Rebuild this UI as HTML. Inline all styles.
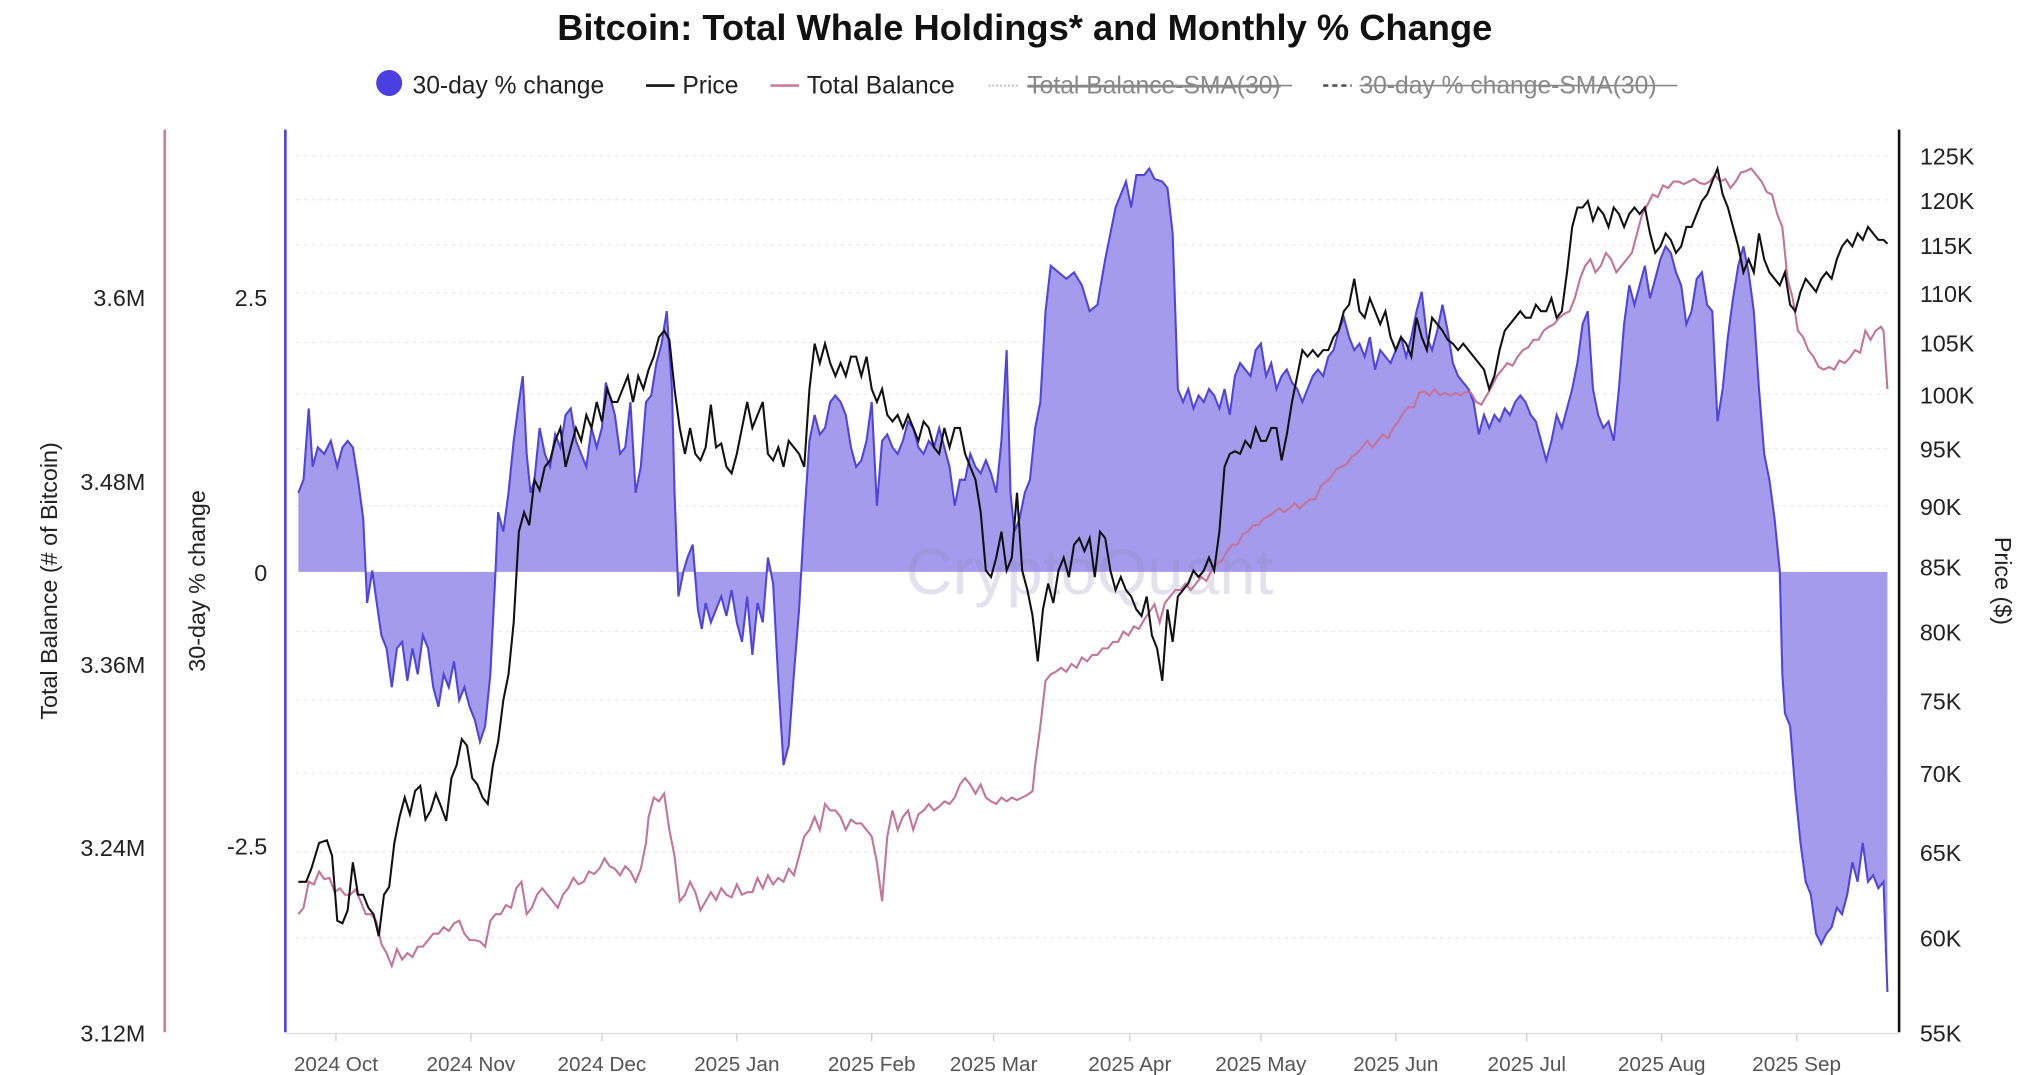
<!DOCTYPE html>
<html><head><meta charset="utf-8"><style>
html,body{margin:0;padding:0;background:#fff;}
svg{display:block;font-family:"Liberation Sans",Arial,sans-serif;}
</style></head><body>
<svg width="2034" height="1075" viewBox="0 0 1568 829" preserveAspectRatio="none" xmlns="http://www.w3.org/2000/svg">
<rect width="1568" height="829" fill="#fff"/>
<text x="790" y="31" text-anchor="middle" font-size="28" font-weight="bold" fill="#111">Bitcoin: Total Whale Holdings* and Monthly % Change</text>
<!-- legend -->
<circle cx="300" cy="64" r="10" fill="#4a3fe0"/>
<text x="318" y="72" font-size="19" fill="#222">30-day % change</text>
<line x1="498" y1="66" x2="520" y2="66" stroke="#111" stroke-width="2"/>
<text x="526" y="72" font-size="19" fill="#222">Price</text>
<line x1="594" y1="66" x2="616" y2="66" stroke="#c87aa0" stroke-width="2"/>
<text x="622" y="72" font-size="19" fill="#222">Total Balance</text>
<line x1="762" y1="66" x2="786" y2="66" stroke="#bbb" stroke-width="1.5" stroke-dasharray="1.5 1.5"/>
<text x="792" y="72" font-size="19" fill="#888" text-decoration="line-through">Total Balance-SMA(30)</text>
<line x1="792" y1="66" x2="996" y2="66" stroke="#888" stroke-width="1.2"/>
<line x1="1020" y1="66" x2="1042" y2="66" stroke="#555" stroke-width="2" stroke-dasharray="4 3"/>
<text x="1048" y="72" font-size="19" fill="#888">30-day % change-SMA(30)</text>
<line x1="1048" y1="66" x2="1293" y2="66" stroke="#888" stroke-width="1.2"/>
<!-- gridlines -->
<g stroke="#ececec" stroke-width="1" stroke-dasharray="3 3">
<line x1="228" y1="120" x2="1455" y2="120"/><line x1="228" y1="154" x2="1455" y2="154"/><line x1="228" y1="189" x2="1455" y2="189"/><line x1="228" y1="226" x2="1455" y2="226"/><line x1="228" y1="264" x2="1455" y2="264"/><line x1="228" y1="304" x2="1455" y2="304"/><line x1="228" y1="346" x2="1455" y2="346"/><line x1="228" y1="390" x2="1455" y2="390"/><line x1="228" y1="487" x2="1455" y2="487"/><line x1="228" y1="540" x2="1455" y2="540"/><line x1="228" y1="596" x2="1455" y2="596"/><line x1="228" y1="657" x2="1455" y2="657"/><line x1="228" y1="723" x2="1455" y2="723"/>
</g>
<!-- axes -->
<line x1="127" y1="100" x2="127" y2="796" stroke="#c87aa0" stroke-width="2"/>
<line x1="220" y1="100" x2="220" y2="796" stroke="#4a3fe0" stroke-width="2"/>
<line x1="1464" y1="100" x2="1464" y2="796" stroke="#111" stroke-width="2"/>
<line x1="220" y1="797" x2="1464" y2="797" stroke="#ddd" stroke-width="1"/>
<g font-size="18" fill="#222" text-anchor="end">
<text x="112" y="236">3.6M</text><text x="112" y="378">3.48M</text><text x="112" y="519">3.36M</text><text x="112" y="660">3.24M</text><text x="112" y="803">3.12M</text>
<text x="206" y="236">2.5</text><text x="206" y="448">0</text><text x="206" y="659">-2.5</text>
</g>
<g font-size="18" fill="#222">
<text x="1480" y="127">125K</text><text x="1480" y="161">120K</text><text x="1480" y="196">115K</text><text x="1480" y="233">110K</text><text x="1480" y="271">105K</text><text x="1480" y="311">100K</text><text x="1480" y="353">95K</text><text x="1480" y="397">90K</text><text x="1480" y="444">85K</text><text x="1480" y="494">80K</text><text x="1480" y="547">75K</text><text x="1480" y="603">70K</text><text x="1480" y="664">65K</text><text x="1480" y="730">60K</text><text x="1480" y="803">55K</text>
</g>
<text transform="translate(44,448) rotate(-90)" text-anchor="middle" font-size="18" fill="#222">Total Balance (# of Bitcoin)</text>
<text transform="translate(158,448) rotate(-90)" text-anchor="middle" font-size="18" fill="#222">30-day % change</text>
<text transform="translate(1538,448) rotate(90)" text-anchor="middle" font-size="18" fill="#222">Price ($)</text>
<g font-size="16" fill="#555" text-anchor="middle">
<text x="259" y="826">2024 Oct</text><text x="363" y="826">2024 Nov</text><text x="464" y="826">2024 Dec</text><text x="568" y="826">2025 Jan</text><text x="672" y="826">2025 Feb</text><text x="766" y="826">2025 Mar</text><text x="871" y="826">2025 Apr</text><text x="972" y="826">2025 May</text><text x="1076" y="826">2025 Jun</text><text x="1177" y="826">2025 Jul</text><text x="1281" y="826">2025 Aug</text><text x="1385" y="826">2025 Sep</text>
</g>
<g stroke="#ccc"><line x1="259" y1="797" x2="259" y2="803"/><line x1="363" y1="797" x2="363" y2="803"/><line x1="464" y1="797" x2="464" y2="803"/><line x1="568" y1="797" x2="568" y2="803"/><line x1="672" y1="797" x2="672" y2="803"/><line x1="766" y1="797" x2="766" y2="803"/><line x1="871" y1="797" x2="871" y2="803"/><line x1="972" y1="797" x2="972" y2="803"/><line x1="1076" y1="797" x2="1076" y2="803"/><line x1="1177" y1="797" x2="1177" y2="803"/><line x1="1281" y1="797" x2="1281" y2="803"/><line x1="1385" y1="797" x2="1385" y2="803"/></g>
<!-- area -->
<polygon fill="#a49bec" stroke="none" points="230,441 230,380 234,370 238,315 241,360 245,345 250,350 255,340 260,360 264,345 268,340 272,345 276,370 280,400 283,465 287,440 290,462 294,490 298,500 302,530 306,500 310,495 314,525 318,500 322,520 326,490 330,500 334,530 338,545 342,520 346,530 350,510 354,540 358,530 362,545 366,555 370,572 374,560 378,520 382,440 384,395 388,410 392,380 396,340 400,310 403,290 406,350 409,380 412,370 416,330 420,350 424,360 428,335 432,345 436,320 440,315 444,340 448,350 452,360 456,330 460,345 464,330 467,295 470,305 474,320 478,350 482,345 486,310 490,380 494,360 498,310 502,305 506,280 510,265 514,240 518,300 520,380 523,460 527,440 530,430 534,420 538,470 541,485 544,465 548,480 552,470 556,460 560,475 564,455 568,480 572,495 576,460 580,505 584,465 588,480 592,430 596,450 600,525 604,590 608,575 612,520 616,470 620,400 624,340 628,320 632,335 636,330 640,310 644,305 648,310 652,320 656,345 660,360 664,355 668,340 672,310 676,390 680,340 684,335 688,345 692,350 696,340 700,325 704,330 708,345 712,350 716,340 720,345 724,330 728,345 732,360 736,390 740,370 744,370 748,350 752,360 756,365 760,355 764,365 768,380 772,340 776,270 779,380 782,410 786,400 790,380 794,370 798,330 802,310 806,240 810,205 816,210 822,215 828,210 834,220 840,240 846,235 852,200 856,180 860,160 864,150 868,140 872,160 876,135 882,135 886,130 890,138 896,140 900,145 904,180 908,300 912,310 916,300 920,315 924,305 928,310 932,300 936,305 940,315 944,300 948,320 952,290 956,280 960,285 964,290 968,270 972,265 976,290 980,280 984,300 988,290 992,285 996,295 1000,300 1004,310 1008,300 1012,290 1016,285 1020,290 1024,275 1028,270 1032,255 1036,245 1040,260 1044,270 1048,265 1052,275 1056,260 1060,285 1064,270 1068,275 1072,280 1076,270 1080,260 1084,275 1088,260 1092,240 1096,225 1100,260 1104,270 1108,255 1112,235 1116,255 1120,280 1124,290 1128,295 1132,300 1136,310 1140,335 1144,320 1148,330 1152,320 1156,325 1160,315 1164,320 1168,310 1172,305 1176,310 1180,320 1184,325 1188,340 1192,355 1196,340 1200,320 1204,330 1208,315 1212,300 1216,280 1220,250 1224,240 1228,300 1232,320 1236,330 1240,325 1244,340 1248,300 1252,250 1256,220 1260,235 1264,220 1268,205 1272,230 1276,215 1280,200 1284,190 1288,195 1292,210 1296,220 1300,250 1304,240 1308,215 1312,210 1316,235 1320,240 1324,325 1328,300 1332,260 1336,230 1340,205 1344,190 1348,210 1352,240 1356,300 1360,350 1364,370 1368,400 1372,440 1374,520 1376,550 1380,560 1384,610 1388,650 1392,680 1396,690 1400,720 1404,728 1408,720 1412,715 1416,700 1420,705 1424,690 1428,665 1432,680 1436,650 1440,680 1444,675 1448,685 1452,680 1455,765 1455,441"/>
<polyline fill="none" stroke="#5144dc" stroke-width="1.6" points="230,380 234,370 238,315 241,360 245,345 250,350 255,340 260,360 264,345 268,340 272,345 276,370 280,400 283,465 287,440 290,462 294,490 298,500 302,530 306,500 310,495 314,525 318,500 322,520 326,490 330,500 334,530 338,545 342,520 346,530 350,510 354,540 358,530 362,545 366,555 370,572 374,560 378,520 382,440 384,395 388,410 392,380 396,340 400,310 403,290 406,350 409,380 412,370 416,330 420,350 424,360 428,335 432,345 436,320 440,315 444,340 448,350 452,360 456,330 460,345 464,330 467,295 470,305 474,320 478,350 482,345 486,310 490,380 494,360 498,310 502,305 506,280 510,265 514,240 518,300 520,380 523,460 527,440 530,430 534,420 538,470 541,485 544,465 548,480 552,470 556,460 560,475 564,455 568,480 572,495 576,460 580,505 584,465 588,480 592,430 596,450 600,525 604,590 608,575 612,520 616,470 620,400 624,340 628,320 632,335 636,330 640,310 644,305 648,310 652,320 656,345 660,360 664,355 668,340 672,310 676,390 680,340 684,335 688,345 692,350 696,340 700,325 704,330 708,345 712,350 716,340 720,345 724,330 728,345 732,360 736,390 740,370 744,370 748,350 752,360 756,365 760,355 764,365 768,380 772,340 776,270 779,380 782,410 786,400 790,380 794,370 798,330 802,310 806,240 810,205 816,210 822,215 828,210 834,220 840,240 846,235 852,200 856,180 860,160 864,150 868,140 872,160 876,135 882,135 886,130 890,138 896,140 900,145 904,180 908,300 912,310 916,300 920,315 924,305 928,310 932,300 936,305 940,315 944,300 948,320 952,290 956,280 960,285 964,290 968,270 972,265 976,290 980,280 984,300 988,290 992,285 996,295 1000,300 1004,310 1008,300 1012,290 1016,285 1020,290 1024,275 1028,270 1032,255 1036,245 1040,260 1044,270 1048,265 1052,275 1056,260 1060,285 1064,270 1068,275 1072,280 1076,270 1080,260 1084,275 1088,260 1092,240 1096,225 1100,260 1104,270 1108,255 1112,235 1116,255 1120,280 1124,290 1128,295 1132,300 1136,310 1140,335 1144,320 1148,330 1152,320 1156,325 1160,315 1164,320 1168,310 1172,305 1176,310 1180,320 1184,325 1188,340 1192,355 1196,340 1200,320 1204,330 1208,315 1212,300 1216,280 1220,250 1224,240 1228,300 1232,320 1236,330 1240,325 1244,340 1248,300 1252,250 1256,220 1260,235 1264,220 1268,205 1272,230 1276,215 1280,200 1284,190 1288,195 1292,210 1296,220 1300,250 1304,240 1308,215 1312,210 1316,235 1320,240 1324,325 1328,300 1332,260 1336,230 1340,205 1344,190 1348,210 1352,240 1356,300 1360,350 1364,370 1368,400 1372,440 1374,520 1376,550 1380,560 1384,610 1388,650 1392,680 1396,690 1400,720 1404,728 1408,720 1412,715 1416,700 1420,705 1424,690 1428,665 1432,680 1436,650 1440,680 1444,675 1448,685 1452,680 1455,765"/>
<text x="840" y="458" text-anchor="middle" font-size="50" fill="#8a86b8" fill-opacity="0.25">CryptoQuant</text>
<!-- balance -->
<polyline fill="none" stroke="#c47399" stroke-width="1.6" points="230,705 234,700 238,680 242,682 246,672 250,678 254,677 258,688 262,685 266,690 270,690 274,686 278,695 282,705 286,705 290,710 294,728 298,735 302,745 306,732 310,740 314,735 318,738 322,730 326,730 330,725 334,720 338,720 342,715 346,718 350,712 354,710 358,720 362,725 366,725 370,726 374,730 378,710 382,705 386,705 390,698 394,700 398,685 402,680 406,705 410,700 414,690 418,685 422,690 426,695 430,700 434,690 438,685 442,677 446,682 450,680 454,672 458,674 462,670 466,662 470,668 474,670 478,675 482,668 486,672 490,680 494,670 498,650 500,630 504,615 508,618 512,612 516,640 520,660 524,695 528,690 532,680 536,688 540,702 544,695 548,688 552,694 556,685 560,690 564,692 568,682 572,690 576,688 580,688 584,677 588,685 592,675 596,682 600,677 604,680 608,670 612,675 616,660 620,645 624,640 628,630 632,640 636,620 640,625 644,625 648,630 652,640 656,632 660,635 664,635 668,640 672,645 676,665 680,695 684,645 688,625 692,640 696,630 700,625 704,640 708,628 712,625 716,620 720,625 724,622 728,618 732,620 736,615 740,605 744,600 748,605 752,612 756,605 760,615 764,618 768,620 772,615 776,618 780,615 784,617 788,615 792,613 796,610 798,590 802,560 806,525 810,520 814,518 818,515 822,518 826,512 830,515 834,507 838,510 842,505 846,505 850,500 854,500 858,495 862,495 866,487 870,490 874,483 878,485 882,478 886,472 890,466 894,480 898,465 902,460 906,455 910,455 914,450 918,455 922,450 926,445 930,448 934,440 938,435 942,432 946,425 950,420 954,420 958,412 962,410 966,405 970,405 974,400 978,398 982,395 986,392 990,395 994,392 998,388 1002,392 1006,388 1010,385 1014,385 1018,375 1022,372 1026,368 1030,362 1034,360 1038,358 1042,352 1046,350 1050,345 1054,340 1058,345 1062,340 1066,335 1070,338 1074,330 1078,325 1082,318 1086,314 1090,314 1094,303 1098,302 1102,305 1106,300 1110,305 1114,303 1118,305 1122,303 1126,305 1130,302 1134,303 1138,310 1142,312 1146,305 1150,298 1154,290 1158,285 1162,280 1166,282 1170,275 1174,270 1178,268 1182,262 1186,262 1190,255 1194,252 1198,250 1202,245 1206,242 1210,240 1214,230 1218,215 1222,205 1226,200 1230,210 1234,205 1238,195 1242,200 1246,210 1250,205 1254,200 1258,195 1262,180 1266,165 1270,158 1274,150 1278,152 1282,143 1286,145 1290,140 1294,140 1298,142 1302,140 1306,138 1310,141 1314,142 1318,140 1322,135 1326,140 1330,138 1334,145 1338,140 1342,133 1346,132 1350,130 1354,135 1358,140 1362,148 1366,150 1370,165 1374,175 1378,215 1382,230 1386,255 1390,260 1394,270 1398,275 1402,283 1406,285 1410,283 1414,285 1418,278 1422,280 1426,276 1430,270 1434,272 1438,255 1442,262 1446,255 1450,252 1452,255 1455,300"/>
<!-- price -->
<polyline fill="none" stroke="#111" stroke-width="1.6" points="230,680 236,680 240,670 246,650 252,648 256,660 260,710 264,712 268,702 272,665 276,690 280,690 284,700 288,705 292,722 296,690 300,684 304,650 308,630 312,615 316,628 320,610 324,606 328,632 332,625 336,612 340,622 344,633 348,600 352,590 356,570 360,575 364,600 368,605 372,615 376,620 380,590 384,572 388,540 392,520 396,480 400,410 404,395 408,405 412,370 416,378 420,360 424,355 428,340 432,330 436,360 440,345 444,330 448,340 452,320 456,330 460,310 464,325 468,300 472,310 476,310 480,300 484,290 488,310 492,290 496,300 500,285 504,275 508,260 512,255 516,262 520,300 524,330 528,350 532,330 536,350 540,355 544,345 548,312 552,345 556,342 560,360 564,365 568,350 572,330 576,310 580,330 584,320 588,310 592,350 596,355 600,345 604,360 608,340 612,345 616,350 620,360 624,300 628,265 632,280 636,265 640,280 644,290 648,280 652,290 656,275 660,275 664,290 668,275 672,300 676,310 680,300 684,320 688,325 692,320 696,330 700,320 704,330 708,340 712,325 716,330 720,345 724,350 728,330 732,345 736,330 740,330 744,350 748,360 752,370 756,395 760,440 764,445 768,430 772,410 776,440 780,430 784,380 788,440 792,455 796,475 800,510 804,470 808,450 812,465 816,440 820,430 824,445 828,420 832,415 836,425 840,415 844,445 848,410 852,415 856,440 860,455 864,445 868,455 872,460 876,470 880,475 884,460 888,490 892,500 896,525 900,470 904,495 908,460 912,455 916,450 920,440 924,445 928,440 932,430 936,440 940,410 944,360 948,350 952,348 956,350 960,340 964,345 968,330 972,340 976,340 980,330 984,330 988,355 992,335 996,310 1000,290 1004,270 1008,275 1012,270 1016,275 1020,270 1024,270 1028,260 1032,255 1036,240 1040,235 1044,215 1048,240 1052,245 1056,230 1060,240 1064,250 1068,240 1072,260 1076,270 1080,260 1084,265 1088,275 1092,245 1096,260 1100,270 1104,245 1108,250 1112,255 1116,262 1120,265 1124,270 1128,265 1132,270 1136,275 1140,280 1144,285 1148,300 1152,290 1156,270 1160,255 1164,250 1168,245 1172,240 1176,245 1180,245 1184,235 1188,240 1192,240 1196,230 1200,245 1204,240 1208,210 1212,175 1216,160 1220,160 1224,155 1228,170 1232,160 1236,165 1240,175 1244,160 1248,165 1252,175 1256,165 1260,160 1264,165 1268,160 1272,180 1276,195 1280,190 1284,180 1288,185 1292,195 1296,190 1300,175 1304,175 1308,165 1312,155 1316,150 1320,140 1324,130 1328,150 1332,160 1336,175 1340,190 1344,210 1348,200 1352,210 1356,180 1360,200 1364,210 1368,215 1372,220 1376,210 1380,235 1384,240 1388,225 1392,215 1396,220 1400,225 1404,215 1408,210 1412,215 1416,200 1420,190 1424,185 1428,190 1432,180 1436,185 1440,175 1444,180 1448,185 1452,185 1455,188"/>
</svg>
</body></html>
